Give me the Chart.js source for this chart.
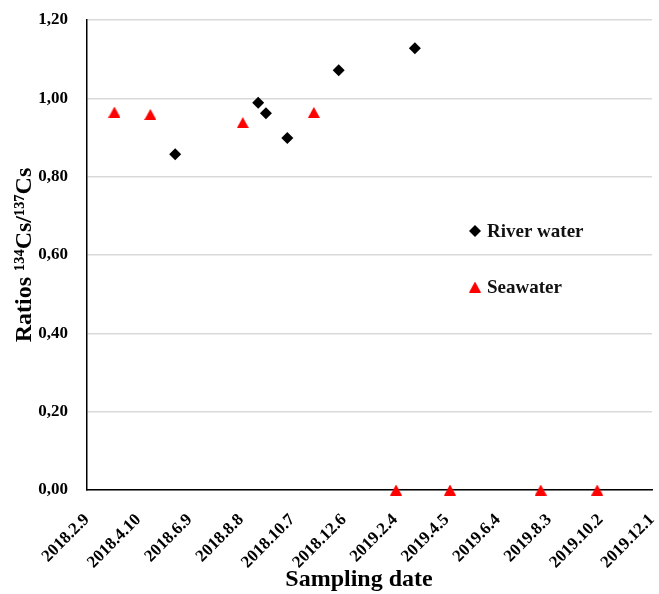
<!DOCTYPE html>
<html>
<head>
<meta charset="utf-8">
<script src="https://cdn.jsdelivr.net/npm/chart.js@4.4.1/dist/chart.umd.min.js"></script>
<style>
  html, body { margin: 0; padding: 0; background: #fff; }
  #wrap { width: 659px; height: 594px; }
</style>
</head>
<body>
<div id="wrap"><canvas id="grafico" width="659" height="594"></canvas></div>
<script>
// dados
const dataInicio = "2018-02-09";
const riverDates = ["2018-05-23", "2018-08-28", "2018-09-06", "2018-10-01", "2018-11-30", "2019-02-27"];
const riverRatios = [0.857, 0.989, 0.962, 0.899, 1.072, 1.128];
const seaDates = ["2018-03-13", "2018-04-24", "2018-08-10", "2018-11-01", "2019-02-05", "2019-04-09", "2019-07-24", "2019-09-28"];
const seaRatios = [0.965, 0.959, 0.938, 0.964, 0, 0, 0, 0];
const yTicks = [0, 0.2, 0.4, 0.6, 0.8, 1.0, 1.2];
const xTickStepDays = 60;
const xTickCount = 12;

const DIA = 86400000;
const t0 = Date.parse(dataInicio);
const dias = (d) => Math.round((Date.parse(d) - t0) / DIA);
const rotuloData = (n) => {
    const d = new Date(t0 + n * DIA);
    return d.getUTCFullYear() + "." + (d.getUTCMonth() + 1) + "." + d.getUTCDate();
};

const serifBold = (size) => ({ family: "'Liberation Serif', 'Times New Roman', serif", size: size, weight: "bold" });

// triângulo centrado na caixa (como no Excel)
const triangulo = document.createElement("canvas");
triangulo.width = 12;
triangulo.height = 11;
(() => {
    const c = triangulo.getContext("2d");
    c.fillStyle = "#ff0000";
    c.beginPath();
    c.moveTo(6, 0);
    c.lineTo(12, 11);
    c.lineTo(0, 11);
    c.closePath();
    c.fill();
})();

// legenda dentro da área do gráfico + título do eixo x
const extras = {
    id: "extras",
    afterDraw(chart) {
        const ctx = chart.ctx;
        const area = chart.chartArea;
        const itens = [
            { texto: "River water", ds: chart.data.datasets[0], y: 231 },
            { texto: "Seawater", ds: chart.data.datasets[1], y: 287 }
        ];
        ctx.save();
        itens.forEach(item => {
            const x = area.left + 388;
            ctx.fillStyle = "#000";
            Chart.helpers.drawPoint(ctx, { pointStyle: item.ds.pointStyle, radius: item.ds.pointRadius, borderWidth: 0 }, x, item.y);
            ctx.fillStyle = "#111";
            ctx.font = "bold 19px 'Liberation Serif', serif";
            ctx.textBaseline = "middle";
            ctx.textAlign = "left";
            ctx.fillText(item.texto, x + 12, item.y + 1);
        });
        ctx.fillStyle = "#000";
        ctx.font = "bold 24px 'Liberation Serif', serif";
        ctx.textAlign = "center";
        ctx.textBaseline = "middle";
        ctx.fillText("Sampling date", 359, 580);
        ctx.restore();
    }
};

new Chart(document.getElementById("grafico"), {
    type: "scatter",
    data: {
        datasets: [
            {
                label: "River water",
                data: riverDates.map((d, i) => ({ x: dias(d), y: riverRatios[i] })),
                pointStyle: "rectRot",
                pointRadius: 6,
                pointBackgroundColor: "#000000",
                pointBorderWidth: 0,
                clip: false
            },
            {
                label: "Seawater",
                data: seaDates.map((d, i) => ({ x: dias(d), y: seaRatios[i] })),
                pointStyle: triangulo,
                pointRadius: 7,
                pointBackgroundColor: "#ff0000",
                pointBorderWidth: 0,
                clip: false
            }
        ]
    },
    options: {
        responsive: false,
        animation: false,
        layout: { padding: { top: 20, right: 0, left: 0, bottom: 0 } },
        plugins: {
            legend: { display: false },
            tooltip: { enabled: false }
        },
        scales: {
            x: {
                type: "linear",
                min: 0,
                max: xTickStepDays * (xTickCount - 1),
                afterBuildTicks: (axis) => {
                    axis.ticks = Array.from({ length: xTickCount }, (_, i) => ({ value: i * xTickStepDays }));
                },
                afterFit: (axis) => {
                    axis.height = 104;
                    axis.paddingLeft = 0;
                    axis.paddingRight = 0;
                },
                grid: { display: false, drawTicks: false },
                border: { color: "#000", width: 1.5 },
                ticks: {
                    autoSkip: false,
                    minRotation: 45,
                    maxRotation: 45,
                    padding: 20,
                    color: "#000",
                    font: serifBold(17),
                    callback: (v) => rotuloData(v)
                },
                title: { display: false }
            },
            y: {
                min: 0,
                max: 1.2,
                afterBuildTicks: (axis) => {
                    axis.ticks = yTicks.map(v => ({ value: v }));
                },
                afterFit: (axis) => {
                    axis.width = 87;
                    axis.paddingTop = 0;
                    axis.paddingBottom = 0;
                },
                grid: { color: "#d9d9d9", lineWidth: 1.5, drawTicks: false },
                border: { color: "#000", width: 1.5 },
                ticks: {
                    padding: 19,
                    color: "#000",
                    font: serifBold(17),
                    callback: (v) => v.toFixed(2).replace(".", ",")
                },
                title: {
                    display: true,
                    text: "Ratios \u00B9\u00B3\u2074Cs/\u00B9\u00B3\u2077Cs",
                    color: "#000",
                    font: serifBold(24),
                    padding: { top: 10, bottom: 0 }
                }
            }
        }
    },
    plugins: [extras]
});
</script>
</body>
</html>
